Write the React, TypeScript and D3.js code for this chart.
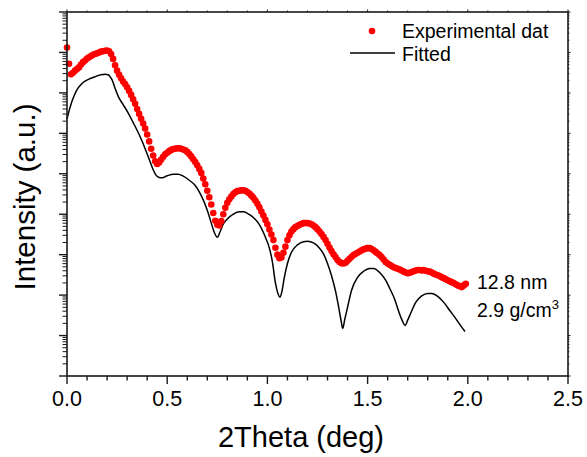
import React from "react";
import * as d3 from "d3";

const expTheta = [
  0.00, 0.01, 0.02, 0.03, 0.04, 0.05, 0.06, 0.07, 0.08, 0.09,
  0.10, 0.11, 0.12, 0.13, 0.14, 0.15, 0.16, 0.17, 0.18, 0.19,
  0.20, 0.21, 0.22, 0.23, 0.24, 0.25, 0.26, 0.27, 0.28, 0.29,
  0.30, 0.31, 0.32, 0.33, 0.34, 0.35, 0.36, 0.37, 0.38, 0.39,
  0.40, 0.41, 0.42, 0.43, 0.44, 0.45, 0.46, 0.47, 0.48, 0.49,
  0.50, 0.51, 0.52, 0.53, 0.54, 0.55, 0.56, 0.57, 0.58, 0.59,
  0.60, 0.61, 0.62, 0.63, 0.64, 0.65, 0.66, 0.67, 0.68, 0.69,
  0.70, 0.71, 0.72, 0.73, 0.74, 0.75, 0.76, 0.77, 0.78, 0.79,
  0.80, 0.81, 0.82, 0.83, 0.84, 0.85, 0.86, 0.87, 0.88, 0.89,
  0.90, 0.91, 0.92, 0.93, 0.94, 0.95, 0.96, 0.97, 0.98, 0.99,
  1.00, 1.01, 1.02, 1.03, 1.04, 1.05, 1.06, 1.07, 1.08, 1.09,
  1.10, 1.11, 1.12, 1.13, 1.14, 1.15, 1.16, 1.17, 1.18, 1.19,
  1.20, 1.21, 1.22, 1.23, 1.24, 1.25, 1.26, 1.27, 1.28, 1.29,
  1.30, 1.31, 1.32, 1.33, 1.34, 1.35, 1.36, 1.37, 1.38, 1.39,
  1.40, 1.41, 1.42, 1.43, 1.44, 1.45, 1.46, 1.47, 1.48, 1.49,
  1.50, 1.51, 1.52, 1.53, 1.54, 1.55, 1.56, 1.57, 1.58, 1.59,
  1.60, 1.61, 1.62, 1.63, 1.64, 1.65, 1.66, 1.67, 1.68, 1.69,
  1.70, 1.71, 1.72, 1.73, 1.74, 1.75, 1.76, 1.77, 1.78, 1.79,
  1.80, 1.81, 1.82, 1.83, 1.84, 1.85, 1.86, 1.87, 1.88, 1.89,
  1.90, 1.91, 1.92, 1.93, 1.94, 1.95, 1.96, 1.97, 1.98, 1.99,
];

const expIntensity = [
  1.32e8, 5.25e7, 2.88e7, 3.16e7, 3.55e7, 3.89e7, 4.27e7, 5.01e7, 5.75e7, 6.31e7,
  7.08e7, 7.59e7, 8.13e7, 8.71e7, 9.12e7, 9.55e7, 1.0e8, 1.05e8, 1.07e8, 1.1e8,
  1.12e8, 1.07e8, 9.12e7, 6.92e7, 4.79e7, 3.55e7, 2.82e7, 2.29e7, 1.91e7, 1.66e7,
  1.38e7, 1.12e7, 8.91e6, 6.92e6, 5.37e6, 3.98e6, 3.02e6, 2.29e6, 1.74e6, 1.32e6,
  9.33e5, 6.31e5, 4.17e5, 2.82e5, 2.04e5, 1.74e5, 1.91e5, 2.24e5, 2.63e5, 3.02e5,
  3.31e5, 3.63e5, 3.89e5, 4.07e5, 4.17e5, 4.27e5, 4.27e5, 4.17e5, 3.98e5, 3.8e5,
  3.47e5, 3.09e5, 2.69e5, 2.29e5, 1.95e5, 1.62e5, 1.32e5, 1.05e5, 7.59e4, 5.5e4,
  3.8e4, 2.63e4, 1.74e4, 1.07e4, 6.92e3, 5.5e3, 5.25e3, 6.76e3, 1.0e4, 1.45e4,
  1.91e4, 2.34e4, 2.75e4, 3.16e4, 3.47e4, 3.72e4, 3.8e4, 3.89e4, 3.89e4, 3.8e4,
  3.55e4, 3.24e4, 2.88e4, 2.57e4, 2.19e4, 1.82e4, 1.48e4, 1.17e4, 9.33e3, 7.24e3,
  5.62e3, 4.17e3, 3.16e3, 2.29e3, 1.48e3, 1.0e3, 813, 851, 1.12e3, 1.58e3,
  2.29e3, 3.02e3, 3.72e3, 4.27e3, 4.79e3, 5.13e3, 5.5e3, 5.75e3, 6.03e3, 6.03e3,
  6.03e3, 5.89e3, 5.62e3, 5.25e3, 4.79e3, 4.27e3, 3.72e3, 3.24e3, 2.75e3, 2.29e3,
  1.86e3, 1.51e3, 1.23e3, 1.02e3, 871, 741, 661, 617, 603, 631,
  708, 794, 891, 977, 1.05e3, 1.12e3, 1.2e3, 1.29e3, 1.35e3, 1.41e3,
  1.45e3, 1.45e3, 1.38e3, 1.29e3, 1.17e3, 1.07e3, 977, 871, 759, 661,
  603, 562, 525, 490, 468, 447, 427, 407, 380, 363,
  347, 355, 372, 389, 407, 417, 417, 407, 417, 398,
  389, 380, 363, 339, 324, 309, 295, 275, 263, 245,
  234, 219, 209, 200, 186, 174, 166, 158, 174, 191,
];

const fitTheta = [
  0.0, 0.01, 0.02, 0.03, 0.05, 0.07, 0.09, 0.11, 0.13, 0.15, 0.17, 0.19, 0.205, 0.215, 0.225,
  0.24, 0.255, 0.28, 0.3, 0.33, 0.36, 0.39, 0.41, 0.43, 0.445, 0.46, 0.475, 0.5, 0.53, 0.555,
  0.58, 0.61, 0.64, 0.67, 0.7, 0.72, 0.735, 0.75, 0.765, 0.78, 0.8, 0.83, 0.86, 0.88, 0.9,
  0.93, 0.96, 0.99, 1.01, 1.025, 1.04, 1.052, 1.063, 1.072, 1.085, 1.1, 1.12, 1.15, 1.18, 1.2,
  1.23, 1.255, 1.28, 1.3, 1.32, 1.34, 1.355, 1.368, 1.376, 1.386, 1.4, 1.42, 1.45, 1.48, 1.51,
  1.53, 1.56, 1.59, 1.61, 1.635, 1.655, 1.672, 1.687, 1.7, 1.715, 1.74, 1.77, 1.8, 1.82, 1.85,
  1.88, 1.91, 1.94, 1.965, 1.986,
];

const fitIntensity = [
  2.24e6, 3.55e6, 5.25e6, 7.24e6, 1.2e7, 1.62e7, 1.95e7, 2.19e7, 2.4e7, 2.63e7, 2.82e7, 2.88e7, 2.82e7, 2.51e7, 2.09e7,
  1.29e7, 8.32e6, 5.13e6, 3.55e6, 1.86e6, 9.33e5, 4.17e5, 2.29e5, 1.26e5, 9.12e4, 8.13e4, 7.94e4, 8.91e4, 9.77e4, 9.77e4,
  8.71e4, 6.92e4, 5.13e4, 2.88e4, 1.26e4, 6.03e3, 3.55e3, 2.69e3, 3.8e3, 5.75e3, 7.59e3, 1.0e4, 1.15e4, 1.15e4, 1.05e4,
  8.32e3, 5.5e3, 2.69e3, 1.45e3, 661, 200, 112, 89.1, 120, 282, 603, 1.15e3, 1.74e3, 2.09e3, 2.14e3,
  1.95e3, 1.55e3, 1.05e3, 603, 302, 126, 52.5, 22.9, 15.1, 25.1, 50.1, 132, 275, 389, 457,
  457, 363, 234, 148, 79.4, 39.8, 24.0, 17.8, 24.0, 35.5, 66.1, 95.5, 110, 110, 93.3,
  66.1, 41.7, 26.3, 17.4, 12.6,
];

const xTickValues = [0, 0.5, 1.0, 1.5, 2.0, 2.5];
const xTickLabels = ["0.0", "0.5", "1.0", "1.5", "2.0", "2.5"];
const legendLabels = ["Experimental dat", "Fitted"];
const annotation = ["12.8 nm", "2.9 g/cm"];

const W = 587;
const H = 457;
const L = 67, R = 568, T = 12, B = 376;
const FONT = "'Liberation Sans', Arial, sans-serif";
const AX = "#1a1a1a";

export default function App() {
  const x = d3.scaleLinear().domain([0, 2.5]).range([L, R]);
  const y = d3.scaleLog().domain([1, 1e9]).range([B, T]);

  const expData = expTheta.map((t, i) => ({ t, v: expIntensity[i] }));
  const fitData = fitTheta.map((t, i) => ({ t, v: fitIntensity[i] }));

  const line = d3
    .line<{ t: number; v: number }>()
    .x((d) => x(d.t))
    .y((d) => y(d.v))
    .curve(d3.curveMonotoneX);

  const xMinor = d3.range(0, 26).map((i) => i / 10);
  const yMajor = d3.range(0, 10).map((e) => Math.pow(10, e));
  const yMinor: number[] = [];
  for (let e = 0; e < 9; e++) for (let k = 2; k <= 9; k++) yMinor.push(k * Math.pow(10, e));

  return (
    <svg width={W} height={H} style={{ position: "absolute", left: 0, top: 0, background: "#fff" }} fontFamily={FONT}>
      <rect x={0} y={0} width={W} height={H} fill="#fff" />
      {/* fitted line */}
      <path d={line(fitData) || ""} fill="none" stroke="#000" strokeWidth={1.5} />
      {/* experimental points */}
      {expData.map((d, i) => (
        <circle key={i} cx={x(d.t)} cy={y(d.v)} r={3.3} fill="#ff0000" />
      ))}

      {/* frame */}
      <rect x={L} y={T} width={R - L} height={B - T} fill="none" stroke={AX} strokeWidth={1.6} />

      {/* bottom & top ticks */}
      {xMinor.map((v, i) => {
        const major = i % 5 === 0;
        return (
          <g key={"xt" + i}>
            <line x1={x(v)} x2={x(v)} y1={B} y2={B + (major ? 8 : 4.5)} stroke={AX} strokeWidth={1.4} />
            <line x1={x(v)} x2={x(v)} y1={T} y2={T - (major ? 2.5 : 1.5)} stroke={AX} strokeWidth={1} />
          </g>
        );
      })}
      {/* left & right ticks */}
      {yMajor.map((v, i) => (
        <g key={"ym" + i}>
          <line x1={L} x2={L - 8} y1={y(v)} y2={y(v)} stroke={AX} strokeWidth={1.4} />
          <line x1={R} x2={R + 2.5} y1={y(v)} y2={y(v)} stroke={AX} strokeWidth={1} />
        </g>
      ))}
      {yMinor.map((v, i) => (
        <g key={"yn" + i}>
          <line x1={L} x2={L - 4.5} y1={y(v)} y2={y(v)} stroke={AX} strokeWidth={1} />
          <line x1={R} x2={R + 1.5} y1={y(v)} y2={y(v)} stroke={AX} strokeWidth={0.8} />
        </g>
      ))}

      {/* x tick labels */}
      {xTickValues.map((v, i) => (
        <text key={"xl" + i} x={x(v)} y={406} fontSize={21.5} textAnchor="middle" fill="#000">
          {xTickLabels[i]}
        </text>
      ))}

      {/* axis titles */}
      <text x={301} y={447} fontSize={29} textAnchor="middle" fill="#000">
        2Theta (deg)
      </text>
      <text transform="translate(35,197) rotate(-90)" fontSize={29.5} textAnchor="middle" fill="#000">
        Intensity (a.u.)
      </text>

      {/* legend */}
      <circle cx={372} cy={31} r={3.3} fill="#ff0000" />
      <text x={402} y={31} dy="0.35em" fontSize={19.5} fill="#000">
        {legendLabels[0]}
      </text>
      <line x1={350} x2={395} y1={53} y2={53} stroke="#000" strokeWidth={1.5} />
      <text x={402} y={54} dy="0.35em" fontSize={19.5} fill="#000">
        {legendLabels[1]}
      </text>

      {/* annotation */}
      <text x={477} y={282} dy="0.35em" fontSize={19.5} fill="#000">
        {annotation[0]}
      </text>
      <text x={477} y={310} dy="0.35em" fontSize={19.5} fill="#000">
        {annotation[1]}
        <tspan dy="-8" fontSize={13}>3</tspan>
      </text>
    </svg>
  );
}
